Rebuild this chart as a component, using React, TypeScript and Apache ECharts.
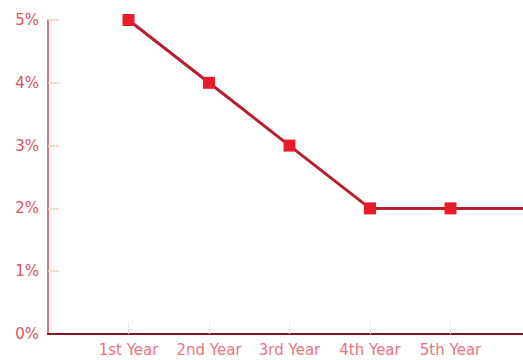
import React, { useEffect, useRef } from "react";
import * as echarts from "echarts";

// Categories (with padding slots at both ends so the line runs to the edge)
const categories = ["", "1st Year", "2nd Year", "3rd Year", "4th Year", "5th Year", ""];
// Rate in percent per year
const rates = [null, 5, 4, 3, 2, 2, 2];
const yTicks = [0, 1, 2, 3, 4, 5];

export default function App() {
  const ref = useRef<HTMLDivElement>(null);

  useEffect(() => {
    if (!ref.current) return;
    const chart = echarts.init(ref.current, undefined, { renderer: "svg" });
    chart.setOption({
      animation: false,
      backgroundColor: "#ffffff",
      grid: { left: 48, right: 0, top: 20, bottom: 26, containLabel: false },
      xAxis: {
        type: "category",
        data: categories,
        boundaryGap: false,
        axisLine: { lineStyle: { color: "#7e1820", width: 2 } },
        axisTick: {
          show: true,
          inside: true,
          length: 12,
          interval: (i: number) => i > 0 && i < categories.length - 1,
          lineStyle: { color: "#f3e8e2", width: 1 },
        },
        axisLabel: {
          color: "#e8747f",
          fontFamily: "DejaVu Sans",
          fontSize: 15,
          margin: 8,
          interval: 0,
        },
        splitLine: { show: false },
      },
      yAxis: {
        type: "value",
        min: yTicks[0],
        max: yTicks[yTicks.length - 1],
        interval: 1,
        axisLine: { show: true, lineStyle: { color: "#d24452", width: 1.5 } },
        axisTick: {
          show: true,
          inside: true,
          length: 11,
          customValues: yTicks.slice(1),
          lineStyle: { color: "#ecd4bc", width: 1.5 },
        },
        axisLabel: {
          color: "#d8525e",
          fontFamily: "DejaVu Sans",
          fontSize: 15,
          margin: 9,
          formatter: (v: number) => `${v}%`,
        },
        splitLine: { show: false },
      },
      series: [
        {
          type: "line",
          data: rates,
          symbol: "rect",
          symbolSize: 12,
          connectNulls: false,
          lineStyle: { color: "#b5202c", width: 3 },
          itemStyle: { color: "#e81c2a" },
          clip: false,
        },
      ],
    });
    return () => chart.dispose();
  }, []);

  return (
    <div style={{ position: "fixed", left: 0, top: 0, width: 523, height: 360, overflow: "hidden" }}>
      <div ref={ref} style={{ width: 534, height: 360 }} />
    </div>
  );
}
